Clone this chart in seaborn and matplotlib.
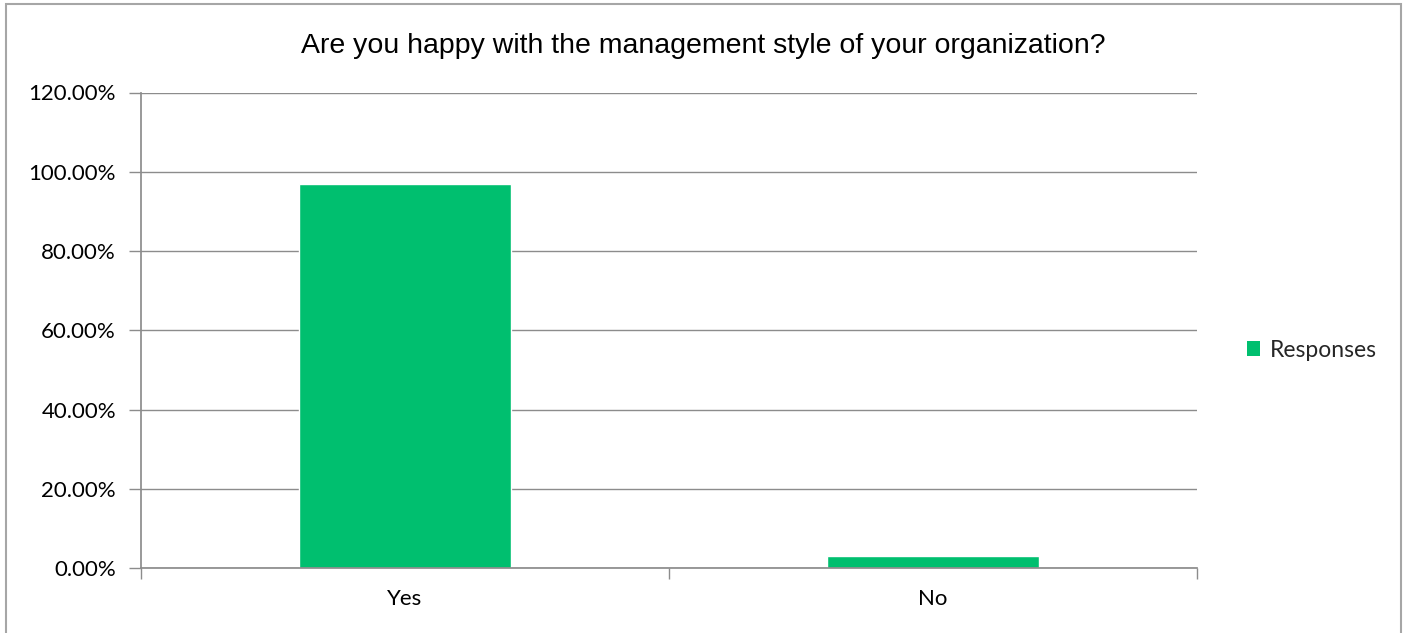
import matplotlib
matplotlib.use("Agg")
import matplotlib.pyplot as plt
from matplotlib.patches import Rectangle, Patch
from matplotlib.ticker import FuncFormatter
import seaborn as sns
import pandas as pd

categories = ["Yes", "No"]
responses = [97.0, 3.0]
series_name = "Responses"
title = "Are you happy with the management style of your organization?"
y_ticks = [0, 20, 40, 60, 80, 100, 120]

sns.set_theme(style="white")
plt.rcParams["font.family"] = ["Lato", "DejaVu Sans"]

green = "#00BF6F"
grid_gray = "#8C8C8C"

df = pd.DataFrame({"answer": categories, "pct": responses})

fig = plt.figure(figsize=(14.06, 6.33), dpi=100)
ax = fig.add_axes([141 / 1406, 1 - 568 / 633, 1056 / 1406, 475.5 / 633])

sns.barplot(data=df, x="answer", y="pct", color=green, width=0.4,
            saturation=1, ax=ax, order=categories)

ax.set_ylim(0, 120)
ax.set_xlim(-0.5, 1.5)
ax.set_yticks(y_ticks)
ax.yaxis.set_major_formatter(FuncFormatter(lambda v, _: f"{v:.2f}%"))
ax.set_xlabel("")
ax.set_ylabel("")
ax.set_axisbelow(True)
ax.yaxis.grid(True, color=grid_gray, linewidth=1)

for side in ["top", "right"]:
    ax.spines[side].set_visible(False)
ax.spines["left"].set_color(grid_gray)
ax.spines["bottom"].set_color(grid_gray)

# category separators drawn as minor ticks on the x axis
ax.set_xticks([-0.5, 0.5, 1.5], minor=True)
ax.tick_params(axis="x", which="major", length=0, labelsize=16, pad=15,
               labelcolor="black")
ax.tick_params(axis="x", which="minor", length=8, color=grid_gray, width=1,
               direction="out", bottom=True)
ax.tick_params(axis="y", which="major", length=9, color=grid_gray, width=1,
               direction="out", labelsize=16, pad=9, left=True,
               labelcolor="black")

fig.text(0.5, 0.928, title, ha="center", va="center", fontsize=20.5,
         family=["Liberation Sans", "DejaVu Sans"], color="black")

handle = Patch(facecolor=green, edgecolor="none", label=series_name)
fig.legend(handles=[handle], loc="center left", bbox_to_anchor=(0.872, 0.447),
           frameon=False, fontsize=16.5, handlelength=0.6, handleheight=0.6,
           handletextpad=0.4)

# outer chart frame
fig.patches.append(Rectangle((6 / 1406, -0.01), 1395 / 1406, 1 - 4 / 633 + 0.01,
                             transform=fig.transFigure, fill=False,
                             edgecolor="#A6A6A6", linewidth=1.5))

fig.savefig("out.png", dpi=100)
